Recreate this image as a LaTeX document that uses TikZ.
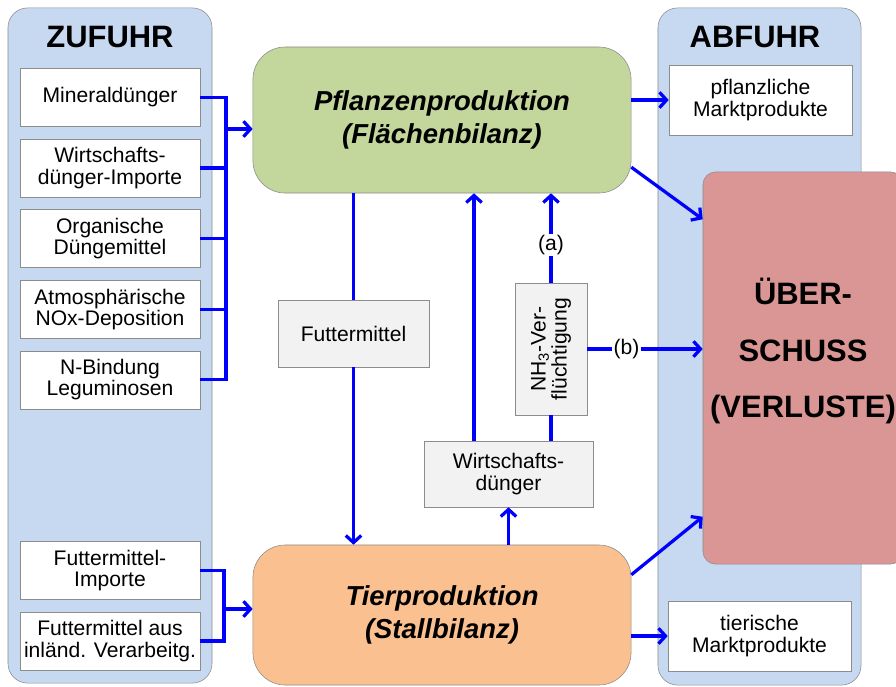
\documentclass[tikz,border=0pt]{standalone}
\usepackage{fontspec}
\setmainfont{Liberation Sans}
\usetikzlibrary{arrows.meta, positioning}
\definecolor{panelblue}{HTML}{C6D9F1}
\definecolor{plantgreen}{HTML}{C3D69B}
\definecolor{stallorange}{HTML}{FAC090}
\definecolor{lossred}{HTML}{D99694}
\definecolor{boxgray}{HTML}{F2F2F2}
\definecolor{rimgray}{HTML}{8C8C8C}
\tikzstyle{flow} = [draw, blue, line width=2.3pt]
\tikzstyle{line} = [flow, -{Straight Barb[length=5pt, width=11pt]}]
\tikzstyle{panel} = [rectangle, draw=rimgray, fill=panelblue, rounded corners=14pt]
\tikzstyle{title} = [font=\fontsize{22}{26}\selectfont\bfseries]
\tikzstyle{source} = [rectangle, draw=rimgray, fill=white, align=center, inner xsep=1pt, minimum width=4.5cm, minimum height=1.45cm, font=\fontsize{15}{15}\selectfont]
\tikzstyle{sink} = [source, minimum width=4.575cm, minimum height=1.75cm]
\tikzstyle{flux} = [rectangle, draw=rimgray, fill=boxgray, align=center, font=\fontsize{15}{15}\selectfont]
\tikzstyle{stage} = [rectangle, draw=rimgray, rounded corners=23pt, align=center, minimum width=9.45cm, font=\fontsize{19.5}{23.5}\selectfont\bfseries\itshape]
\tikzstyle{loss} = [rectangle, draw=rimgray, fill=lossred, rounded corners=9pt, minimum width=5cm, minimum height=9.8cm]
\tikzstyle{losstext} = [align=center, font=\fontsize{22}{40}\selectfont\bfseries]
\tikzstyle{tag} = [fill=white, text=black, inner sep=1pt, font=\fontsize{15}{15}\selectfont]
\begin{document}
\begin{tikzpicture}[x=0.025cm, y=-0.025cm, node distance=0.3cm]
\useasboundingbox (0,0) rectangle (896,686);
% side panels
\node [panel, minimum width=5.1cm, minimum height=16.875cm] (zufuhr) at (110,345.5) {};
\node [panel, minimum width=5.075cm, minimum height=16.925cm] (abfuhr) at (759.5,346.5) {};
\node [title] (zutitle) at (110,37) {ZUFUHR};
\node [title] (abtitle) at (755,37) {ABFUHR};
% inputs
\node [source] (mineral) at (110,97.5) {Mineraldünger};
\node [source, below=of mineral] (wdimport) {Wirtschafts-\\dünger-Importe};
\node [source, below=of wdimport] (organic) {Organische\\Düngemittel};
\node [source, below=of organic] (nox) {Atmosphärische\\NOx-Deposition};
\node [source, below=of nox] (legume) {N-Bindung\\Leguminosen};
\node [source] (fmimport) at (110,570.5) {Futtermittel-\\Importe};
\node [source, below=of fmimport] (fminland) {Futtermittel aus\\inländ. Verarbeitg.};
% balances
\node [stage, fill=plantgreen, minimum height=3.65cm] (pflanzen) at (442,120) {Pflanzenproduktion\\(Flächenbilanz)};
\node [stage, fill=stallorange, minimum height=3.5cm] (tier) at (442,615) {Tierproduktion\\(Stallbilanz)};
% outputs
\node [sink] (pflmarkt) at (760.5,100) {pflanzliche\\Marktprodukte};
\node [sink] (tiermarkt) at (759.5,636) {tierische\\Marktprodukte};
\node [loss] (ueber) at (803,368) {};
\node [losstext] (uebertext) at ([yshift=12pt]ueber.center) {ÜBER-\\SCHUSS\\(VERLUSTE)};
% internal flows
\node [flux, minimum width=3.775cm, minimum height=1.675cm] (futter) at (353.5,333.5) {Futtermittel};
\node [flux, minimum width=4.225cm, minimum height=1.65cm] (wdung) at (508.5,474) {Wirtschafts-\\dünger};
\node [flux, rotate=90, minimum width=3.3cm, minimum height=1.8cm] (nh3) at (551,349) {NH\textsubscript{3}-Ver-\\flüchtigung};
\coordinate (zbar) at (226,129);
\coordinate (fbar) at (224,609);
\coordinate (wdback) at (474,0);
% input brackets
\path [flow] (mineral.east) -| (legume.east -| zbar) -- (legume.east);
\foreach \src in {wdimport, organic, nox}
  \path [flow] (\src.east) -- (\src.east -| zbar);
\path [line] (zbar) -- (zbar -| pflanzen.west);
\path [flow] (fmimport.east) -| (fminland.east -| fbar) -- (fminland.east);
\path [line] (fbar) -- (fbar -| tier.west);
% between the balances
\path [flow] (pflanzen.south -| futter) -- (futter.north);
\path [line] (futter.south) -- (tier.north -| futter);
\path [line] (tier.north -| wdung) -- (wdung.south);
\path [line] (wdung.north -| wdback) -- (wdback |- pflanzen.south);
\path [flow] (wdung.north -| nh3) -- (nh3.west);
\path [line] (nh3.east) -- (pflanzen.south -| nh3) node [tag, pos=0.42] {(a)};
\path [line] (nh3.south) -- (nh3.south -| ueber.west) node [tag, pos=0.34] {(b)};
% outputs
\path [line] (pflanzen.east |- pflmarkt) -- (pflmarkt.west);
\path [line] (pflanzen.-14) -- (ueber.124);
\path [line] (tier.12.5) -- (ueber.236);
\path [line] (tier.east |- tiermarkt) -- (tiermarkt.west);
\end{tikzpicture}
\end{document}
